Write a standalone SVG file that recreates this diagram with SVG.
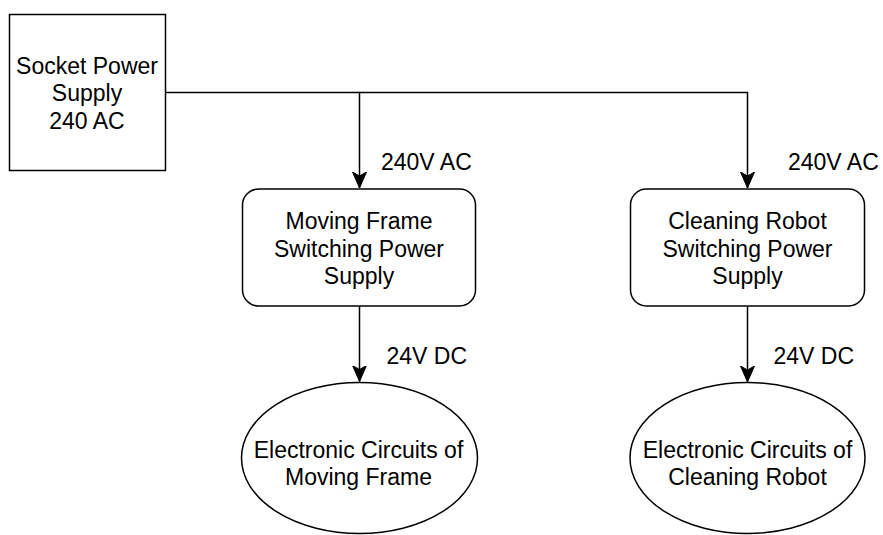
<svg xmlns="http://www.w3.org/2000/svg" width="883" height="535" viewBox="0 0 883 535">
<style>
.shape{fill:#fff;stroke:#000;stroke-width:1.5}
.edge{fill:none;stroke:#000;stroke-width:1.5}
text{font-family:"Liberation Sans",Arial,Helvetica,sans-serif;font-size:23px;fill:#000}
.c{text-anchor:middle}
</style>
<defs>
<marker id="arr" markerUnits="userSpaceOnUse" markerWidth="18" markerHeight="16" viewBox="0 0 18 16" refX="16" refY="8" orient="auto">
<path d="M0,1 L16,8 L0,15 L4,8 Z" fill="#000" stroke="#000" stroke-width="1"/>
</marker>
</defs>
<g id="connectors">
<path class="edge" d="M166,92.5 H359.5 V188" marker-end="url(#arr)"/>
<path class="edge" d="M359.5,92.5 H747.5 V188" marker-end="url(#arr)"/>
<path class="edge" d="M359.5,306 V381.5" marker-end="url(#arr)"/>
<path class="edge" d="M747.5,306 V382" marker-end="url(#arr)"/>
<text x="381" y="169.5">240V AC</text>
<text x="788" y="169.5">240V AC</text>
<text x="386.5" y="364">24V DC</text>
<text x="773.5" y="363.5">24V DC</text>
</g>
<g id="socket">
<rect class="shape" x="9.5" y="14.5" width="156" height="156"/>
<text class="c" x="87" y="73.5">Socket Power</text>
<text class="c" x="87" y="101">Supply</text>
<text class="c" x="87" y="128.5">240 AC</text>
</g>
<g id="mf-psu">
<rect class="shape" x="242.5" y="189" width="233" height="117" rx="16" ry="16"/>
<text class="c" x="359" y="229">Moving Frame</text>
<text class="c" x="359" y="256.5">Switching Power</text>
<text class="c" x="359" y="284">Supply</text>
</g>
<g id="cr-psu">
<rect class="shape" x="630.5" y="189" width="234" height="117" rx="16" ry="16"/>
<text class="c" x="747.5" y="229">Cleaning Robot</text>
<text class="c" x="747.5" y="256.5">Switching Power</text>
<text class="c" x="747.5" y="284">Supply</text>
</g>
<g id="mf-circuits">
<ellipse class="shape" cx="359.5" cy="458" rx="118" ry="75.5"/>
<text class="c" x="358.5" y="457.5">Electronic Circuits of</text>
<text class="c" x="358.5" y="484.5">Moving Frame</text>
</g>
<g id="cr-circuits">
<ellipse class="shape" cx="747.5" cy="458" rx="117.5" ry="75.5"/>
<text class="c" x="747.5" y="457.5">Electronic Circuits of</text>
<text class="c" x="747.5" y="484.5">Cleaning Robot</text>
</g>
</svg>
